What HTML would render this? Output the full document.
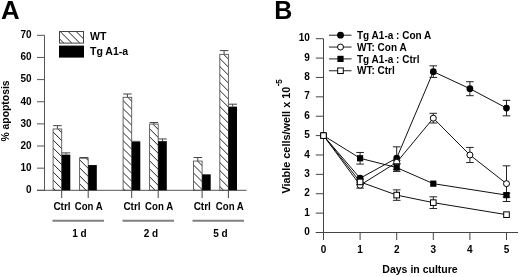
<!DOCTYPE html><html><head><meta charset="utf-8"><style>html,body{margin:0;padding:0;background:#fff;}svg{display:block;filter:grayscale(1);}text{font-family:"Liberation Sans",sans-serif;font-weight:bold;fill:#000;}</style></head><body>
<svg width="520" height="277" viewBox="0 0 520 277">
<defs><pattern id="h0" patternUnits="userSpaceOnUse" width="8" height="8" patternTransform="translate(1.1,0)"><path d="M-2,-2 L10,10 M-10,-2 L2,10 M6,-2 L18,10" stroke="#222" stroke-width="1"/></pattern><pattern id="h1" patternUnits="userSpaceOnUse" width="8" height="8" patternTransform="translate(7.8,0)"><path d="M-2,-2 L10,10 M-10,-2 L2,10 M6,-2 L18,10" stroke="#222" stroke-width="1"/></pattern><pattern id="h2" patternUnits="userSpaceOnUse" width="8" height="8" patternTransform="translate(6.5,0)"><path d="M-2,-2 L10,10 M-10,-2 L2,10 M6,-2 L18,10" stroke="#222" stroke-width="1"/></pattern><pattern id="h3" patternUnits="userSpaceOnUse" width="8" height="8" patternTransform="translate(4.8,0)"><path d="M-2,-2 L10,10 M-10,-2 L2,10 M6,-2 L18,10" stroke="#222" stroke-width="1"/></pattern><pattern id="h4" patternUnits="userSpaceOnUse" width="8" height="8" patternTransform="translate(4.5,0)"><path d="M-2,-2 L10,10 M-10,-2 L2,10 M6,-2 L18,10" stroke="#222" stroke-width="1"/></pattern><pattern id="h5" patternUnits="userSpaceOnUse" width="8" height="8" patternTransform="translate(1.3,0)"><path d="M-2,-2 L10,10 M-10,-2 L2,10 M6,-2 L18,10" stroke="#222" stroke-width="1"/></pattern><pattern id="h6" patternUnits="userSpaceOnUse" width="8" height="8" patternTransform="translate(4.65,0)"><path d="M-2,-2 L10,10 M-10,-2 L2,10 M6,-2 L18,10" stroke="#222" stroke-width="1"/></pattern></defs>
<rect width="520" height="277" fill="#fff"/>
<text x="1" y="19" font-size="25" transform="translate(1,0) scale(1.035,1) translate(-1,0)">A</text>
<path d="M44.5,35.32 V190.3 M37.0,190.3 H246.6" stroke="#555" stroke-width="1" fill="none"/>
<text x="31.5" y="193.1" font-size="10" text-anchor="end">0</text>
<text x="31.5" y="170.96" font-size="10" text-anchor="end">10</text>
<text x="31.5" y="148.82" font-size="10" text-anchor="end">20</text>
<text x="31.5" y="126.68" font-size="10" text-anchor="end">30</text>
<text x="31.5" y="104.54" font-size="10" text-anchor="end">40</text>
<text x="31.5" y="82.4" font-size="10" text-anchor="end">50</text>
<text x="31.5" y="60.26" font-size="10" text-anchor="end">60</text>
<text x="31.5" y="38.12" font-size="10" text-anchor="end">70</text>
<path d="M37.0,190.3 H44.5 M37.0,168.16 H44.5 M37.0,146.02 H44.5 M37.0,123.88 H44.5 M37.0,101.74 H44.5 M37.0,79.6 H44.5 M37.0,57.46 H44.5 M37.0,35.32 H44.5 " stroke="#555" stroke-width="1" fill="none"/>
<text transform="translate(8.8,111) rotate(-90)" font-size="10.4" text-anchor="middle">% apoptosis</text>
<rect x="53.1" y="128.97" width="8.6" height="61.33" fill="url(#h0)" stroke="#555" stroke-width="0.9"/>
<path d="M57.4,128.97 V125.65 M53.1,125.65 H61.7" stroke="#444" stroke-width="1" fill="none"/>
<rect x="61.7" y="154.65" width="8.6" height="35.65" fill="#000"/>
<path d="M66,154.65 V152.88 M61.7,152.88 H70.3" stroke="#444" stroke-width="1" fill="none"/>
<path d="M61.7,190.3 V198" stroke="#444" stroke-width="1" fill="none"/>
<rect x="79.6" y="158.2" width="8.6" height="32.1" fill="url(#h1)" stroke="#555" stroke-width="0.9"/>
<path d="M83.9,158.2 V157.53 M79.6,157.53 H88.2" stroke="#444" stroke-width="1" fill="none"/>
<rect x="88.2" y="165.06" width="8.6" height="25.24" fill="#000"/>
<path d="M88.2,190.3 V198" stroke="#444" stroke-width="1" fill="none"/>
<rect x="123.1" y="97.31" width="8.6" height="92.99" fill="url(#h2)" stroke="#555" stroke-width="0.9"/>
<path d="M127.4,97.31 V93.99 M123.1,93.99 H131.7" stroke="#444" stroke-width="1" fill="none"/>
<rect x="131.7" y="142.03" width="8.6" height="48.27" fill="#000"/>
<path d="M136,142.03 V141.37 M131.7,141.37 H140.3" stroke="#444" stroke-width="1" fill="none"/>
<path d="M131.7,190.3 V198" stroke="#444" stroke-width="1" fill="none"/>
<rect x="149.6" y="124.1" width="8.6" height="66.2" fill="url(#h3)" stroke="#555" stroke-width="0.9"/>
<path d="M153.9,124.1 V122.55 M149.6,122.55 H158.2" stroke="#444" stroke-width="1" fill="none"/>
<rect x="158.2" y="141.15" width="8.6" height="49.15" fill="#000"/>
<path d="M162.5,141.15 V138.94 M158.2,138.94 H166.8" stroke="#444" stroke-width="1" fill="none"/>
<path d="M158.2,190.3 V198" stroke="#444" stroke-width="1" fill="none"/>
<rect x="193.5" y="161.08" width="8.6" height="29.22" fill="url(#h4)" stroke="#555" stroke-width="0.9"/>
<path d="M197.8,161.08 V157.53 M193.5,157.53 H202.1" stroke="#444" stroke-width="1" fill="none"/>
<rect x="202.1" y="174.36" width="8.6" height="15.94" fill="#000"/>
<path d="M202.1,190.3 V198" stroke="#444" stroke-width="1" fill="none"/>
<rect x="219.8" y="54.36" width="8.6" height="135.94" fill="url(#h5)" stroke="#555" stroke-width="0.9"/>
<path d="M224.1,54.36 V50.6 M219.8,50.6 H228.4" stroke="#444" stroke-width="1" fill="none"/>
<rect x="228.4" y="106.61" width="8.6" height="83.69" fill="#000"/>
<path d="M232.7,106.61 V104.18 M228.4,104.18 H237" stroke="#444" stroke-width="1" fill="none"/>
<path d="M228.4,190.3 V198" stroke="#444" stroke-width="1" fill="none"/>
<text x="62" y="210" font-size="10" text-anchor="middle">Ctrl</text>
<text x="88.75" y="210" font-size="10" text-anchor="middle" textLength="28" lengthAdjust="spacingAndGlyphs">Con A</text>
<text x="132" y="210" font-size="10" text-anchor="middle">Ctrl</text>
<text x="159.1" y="210" font-size="10" text-anchor="middle" textLength="28" lengthAdjust="spacingAndGlyphs">Con A</text>
<text x="202.25" y="210" font-size="10" text-anchor="middle">Ctrl</text>
<text x="229.8" y="210" font-size="10" text-anchor="middle" textLength="28" lengthAdjust="spacingAndGlyphs">Con A</text>
<path d="M52.5,220.7 H104" stroke="#808080" stroke-width="1.9" fill="none"/>
<text x="79.4" y="236.9" font-size="10" text-anchor="middle">1 d</text>
<path d="M122.5,220.7 H174" stroke="#808080" stroke-width="1.9" fill="none"/>
<text x="150.9" y="236.9" font-size="10" text-anchor="middle">2 d</text>
<path d="M192.5,220.7 H244" stroke="#808080" stroke-width="1.9" fill="none"/>
<text x="220.4" y="236.9" font-size="10" text-anchor="middle">5 d</text>
<rect x="59.5" y="31.5" width="24" height="11.6" fill="url(#h6)" stroke="#444" stroke-width="1"/>
<rect x="59" y="45.6" width="25" height="12" fill="#000"/>
<text x="90" y="40.3" font-size="10.5">WT</text>
<text x="90" y="54.7" font-size="10.5">Tg A1-a</text>
<text x="274.3" y="19.2" font-size="25">B</text>
<path d="M323.5,38.7 V240 M315.8,232.5 H518" stroke="#444" stroke-width="1" fill="none"/>
<text x="309.8" y="235.1" font-size="10" text-anchor="end">0</text>
<text x="309.8" y="215.72" font-size="10" text-anchor="end">1</text>
<text x="309.8" y="196.34" font-size="10" text-anchor="end">2</text>
<text x="309.8" y="176.96" font-size="10" text-anchor="end">3</text>
<text x="309.8" y="157.58" font-size="10" text-anchor="end">4</text>
<text x="309.8" y="138.2" font-size="10" text-anchor="end">5</text>
<text x="309.8" y="118.82" font-size="10" text-anchor="end">6</text>
<text x="309.8" y="99.44" font-size="10" text-anchor="end">7</text>
<text x="309.8" y="80.06" font-size="10" text-anchor="end">8</text>
<text x="309.8" y="60.68" font-size="10" text-anchor="end">9</text>
<text x="309.8" y="41.3" font-size="10" text-anchor="end">10</text>
<text x="323.5" y="253.2" font-size="10" text-anchor="middle">0</text>
<text x="360.1" y="253.2" font-size="10" text-anchor="middle">1</text>
<text x="396.7" y="253.2" font-size="10" text-anchor="middle">2</text>
<text x="433.3" y="253.2" font-size="10" text-anchor="middle">3</text>
<text x="469.9" y="253.2" font-size="10" text-anchor="middle">4</text>
<text x="506.5" y="253.2" font-size="10" text-anchor="middle">5</text>
<path d="M315.8,232.5 H323.5 M315.8,213.12 H323.5 M315.8,193.74 H323.5 M315.8,174.36 H323.5 M315.8,154.98 H323.5 M315.8,135.6 H323.5 M315.8,116.22 H323.5 M315.8,96.84 H323.5 M315.8,77.46 H323.5 M315.8,58.08 H323.5 M315.8,38.7 H323.5 M323.5,232.5 V240 M360.1,232.5 V240 M396.7,232.5 V240 M433.3,232.5 V240 M469.9,232.5 V240 M506.5,232.5 V240 " stroke="#444" stroke-width="1" fill="none"/>
<text x="420" y="272.6" font-size="10.5" text-anchor="middle">Days in culture</text>
<text transform="translate(290.2,193.6) rotate(-90)" font-size="10.9">Viable cells/well x 10<tspan font-size="8.2" dy="-9" dx="0.4">-</tspan><tspan font-size="8.2" dy="0.9" dx="-0.2">5</tspan></text>
<path d="M323.5,135.6 L360.1,178.24 L396.7,158.08 L433.3,71.65 L469.9,88.7 L506.5,108.08" stroke="#111" stroke-width="1" fill="none"/>
<path d="M396.7,146.84 V169.32 M392.9,146.84 H400.5 M392.9,169.32 H400.5" stroke="#222" stroke-width="1" fill="none"/>
<path d="M433.3,65.83 V77.46 M429.5,65.83 H437.1 M429.5,77.46 H437.1" stroke="#222" stroke-width="1" fill="none"/>
<path d="M469.9,81.72 V95.68 M466.1,81.72 H473.7 M466.1,95.68 H473.7" stroke="#222" stroke-width="1" fill="none"/>
<path d="M506.5,100.33 V115.83 M502.7,100.33 H510.3 M502.7,115.83 H510.3" stroke="#222" stroke-width="1" fill="none"/>
<circle cx="323.5" cy="135.6" r="3.4" fill="#000"/>
<circle cx="360.1" cy="178.24" r="3.4" fill="#000"/>
<circle cx="396.7" cy="158.08" r="3.4" fill="#000"/>
<circle cx="433.3" cy="71.65" r="3.4" fill="#000"/>
<circle cx="469.9" cy="88.7" r="3.4" fill="#000"/>
<circle cx="506.5" cy="108.08" r="3.4" fill="#000"/>
<path d="M323.5,135.6 L360.1,185.21 L396.7,162.34 L433.3,118.16 L469.9,154.98 L506.5,183.66" stroke="#111" stroke-width="1" fill="none"/>
<path d="M360.1,182.31 V188.12 M356.3,182.31 H363.9 M356.3,188.12 H363.9" stroke="#222" stroke-width="1" fill="none"/>
<path d="M396.7,160.41 V164.28 M392.9,160.41 H400.5 M392.9,164.28 H400.5" stroke="#222" stroke-width="1" fill="none"/>
<path d="M433.3,113.31 V123 M429.5,113.31 H437.1 M429.5,123 H437.1" stroke="#222" stroke-width="1" fill="none"/>
<path d="M469.9,147.42 V162.54 M466.1,147.42 H473.7 M466.1,162.54 H473.7" stroke="#222" stroke-width="1" fill="none"/>
<path d="M506.5,165.83 V201.49 M502.7,165.83 H510.3 M502.7,201.49 H510.3" stroke="#222" stroke-width="1" fill="none"/>
<circle cx="323.5" cy="135.6" r="3" fill="#fff" stroke="#000" stroke-width="1"/>
<circle cx="360.1" cy="185.21" r="3" fill="#fff" stroke="#000" stroke-width="1"/>
<circle cx="396.7" cy="162.34" r="3" fill="#fff" stroke="#000" stroke-width="1"/>
<circle cx="433.3" cy="118.16" r="3" fill="#fff" stroke="#000" stroke-width="1"/>
<circle cx="469.9" cy="154.98" r="3" fill="#fff" stroke="#000" stroke-width="1"/>
<circle cx="506.5" cy="183.66" r="3" fill="#fff" stroke="#000" stroke-width="1"/>
<path d="M323.5,135.6 L360.1,158.27 L396.7,167.58 L433.3,183.66 L506.5,195.1" stroke="#111" stroke-width="1" fill="none"/>
<path d="M360.1,152.46 V164.09 M356.3,152.46 H363.9 M356.3,164.09 H363.9" stroke="#222" stroke-width="1" fill="none"/>
<path d="M396.7,163.7 V171.45 M392.9,163.7 H400.5 M392.9,171.45 H400.5" stroke="#222" stroke-width="1" fill="none"/>
<path d="M506.5,193.16 V197.03 M502.7,193.16 H510.3 M502.7,197.03 H510.3" stroke="#222" stroke-width="1" fill="none"/>
<rect x="320.4" y="132.5" width="6.2" height="6.2" fill="#000"/>
<rect x="357" y="155.17" width="6.2" height="6.2" fill="#000"/>
<rect x="393.6" y="164.48" width="6.2" height="6.2" fill="#000"/>
<rect x="430.2" y="180.56" width="6.2" height="6.2" fill="#000"/>
<rect x="503.4" y="192" width="6.2" height="6.2" fill="#000"/>
<path d="M323.5,135.6 L360.1,181.92 L396.7,195.1 L433.3,202.65 L506.5,214.67" stroke="#111" stroke-width="1" fill="none"/>
<path d="M360.1,179.59 V184.24 M356.3,179.59 H363.9 M356.3,184.24 H363.9" stroke="#222" stroke-width="1" fill="none"/>
<path d="M396.7,189.86 V200.33 M392.9,189.86 H400.5 M392.9,200.33 H400.5" stroke="#222" stroke-width="1" fill="none"/>
<path d="M433.3,196.84 V208.47 M429.5,196.84 H437.1 M429.5,208.47 H437.1" stroke="#222" stroke-width="1" fill="none"/>
<rect x="320.7" y="132.8" width="5.6" height="5.6" fill="#fff" stroke="#000" stroke-width="1"/>
<rect x="357.3" y="179.12" width="5.6" height="5.6" fill="#fff" stroke="#000" stroke-width="1"/>
<rect x="393.9" y="192.3" width="5.6" height="5.6" fill="#fff" stroke="#000" stroke-width="1"/>
<rect x="430.5" y="199.85" width="5.6" height="5.6" fill="#fff" stroke="#000" stroke-width="1"/>
<rect x="503.7" y="211.87" width="5.6" height="5.6" fill="#fff" stroke="#000" stroke-width="1"/>
<path d="M329,35.2 H351.5" stroke="#222" stroke-width="1" fill="none"/>
<circle cx="340.5" cy="35.2" r="3.4" fill="#000"/>
<text x="357" y="38.8" font-size="10">Tg A1-a : Con A</text>
<path d="M329,47.05 H351.5" stroke="#222" stroke-width="1" fill="none"/>
<circle cx="340.5" cy="47.05" r="3" fill="#fff" stroke="#000" stroke-width="1"/>
<text x="357" y="50.65" font-size="10">WT: Con A</text>
<path d="M329,58.9 H351.5" stroke="#222" stroke-width="1" fill="none"/>
<rect x="337.4" y="55.8" width="6.2" height="6.2" fill="#000"/>
<text x="357" y="62.5" font-size="10">Tg A1-a : Ctrl</text>
<path d="M329,70.75 H351.5" stroke="#222" stroke-width="1" fill="none"/>
<rect x="337.7" y="67.95" width="5.6" height="5.6" fill="#fff" stroke="#000" stroke-width="1"/>
<text x="357" y="74.35" font-size="10">WT: Ctrl</text>
</svg></body></html>
